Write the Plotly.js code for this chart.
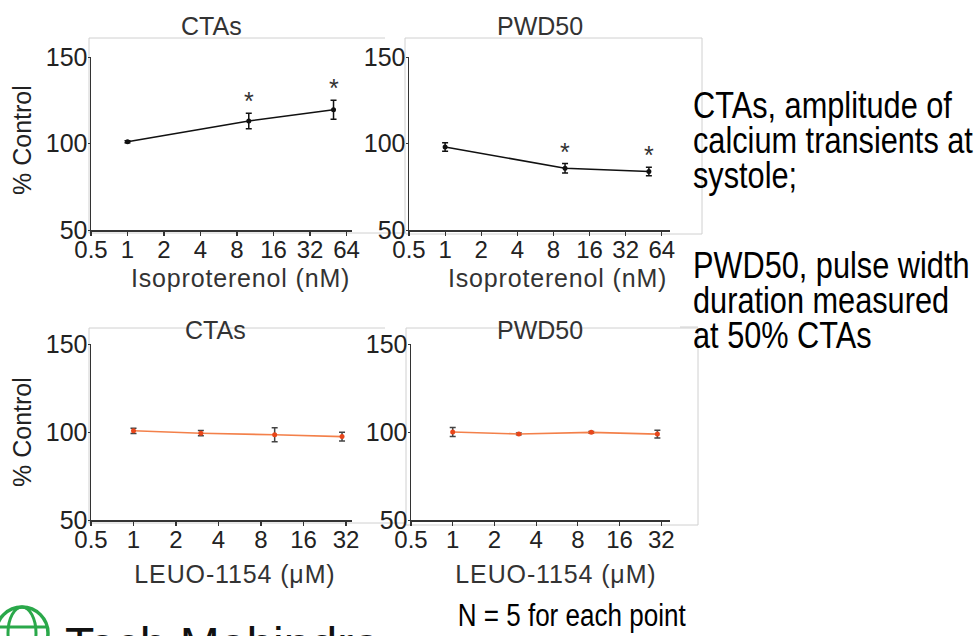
<!DOCTYPE html>
<html>
<head>
<meta charset="utf-8">
<script src="https://cdn.plot.ly/plotly-3.0.1.min.js"></script>
<style>html,body{margin:0;padding:0;background:#fff;}#chart{width:979px;height:636px;}</style>
</head>
<body>
<div id="chart"></div>
<script>
// ---- data ----
const isoConc = [1, 10, 50];
const ctaIso = [101, 113, 119.5];
const ctaIsoErr = [0.6, 4.5, 5.5];
const pwdIso = [98, 85.7, 83.8];
const pwdIsoErr = [2.5, 2.7, 2.5];
const isoSig = [false, true, true];

const leuoConc = [1, 3, 10, 30];
const ctaLeuo = [100.7, 99.3, 98.4, 97.4];
const ctaLeuoErr = [1.5, 1.5, 4, 2.5];
const pwdLeuo = [100, 98.9, 99.8, 98.8];
const pwdLeuoErr = [2.5, 0.5, 0.5, 2.2];

const isoTicks = [0.5, 1, 2, 4, 8, 16, 32, 64];
const isoTickText = ['0.5', '1', '2', '4', '8', '16', '32', '64'];
const leuoTicks = [0.5, 1, 2, 4, 8, 16, 32];
const leuoTickText = ['0.5', '1', '2', '4', '8', '16', '32'];
const yTicks = [50, 100, 150];

const panelTitles = ['CTAs', 'PWD50', 'CTAs', 'PWD50'];
const isoLabel = 'Isoproterenol (nM)';
const leuoLabel = 'LEUO-1154 (μM)';
const yLabel = '% Control';
const noteLines1 = ['CTAs, amplitude of', 'calcium transients at', 'systole;'];
const noteLines2 = ['PWD50, pulse width', 'duration measured', 'at 50% CTAs'];
const nNote = 'N = 5 for each point';

// ---- helpers ----
const W = 979, H = 636;
const px = v => v / W;
const py = v => 1 - v / H;
const FONT = 'Liberation Sans, Arial, sans-serif';

// horizontal width factors for texts (condensed / letter-spaced look)
const widthFactor = {};
widthFactor[isoLabel] = 1.07;
widthFactor[leuoLabel] = 1.06;
noteLines1.concat(noteLines2).forEach(t => widthFactor[t] = 0.83);
widthFactor[nNote] = 0.84;

function seriesTrace(x, y, e, xa, ya, lineColor, markerColor, errColor) {
  return {
    x: x, y: y, xaxis: xa, yaxis: ya, type: 'scatter', mode: 'lines+markers',
    line: {color: lineColor, width: 1.6},
    marker: {color: markerColor, size: 5},
    error_y: {type: 'data', array: e, visible: true, color: errColor, thickness: 1.5, width: 3},
    showlegend: false, hoverinfo: 'none'
  };
}

const data = [
  seriesTrace(isoConc, ctaIso, ctaIsoErr, 'x', 'y', '#111', '#111', '#111'),
  seriesTrace(isoConc, pwdIso, pwdIsoErr, 'x2', 'y2', '#111', '#111', '#111'),
  seriesTrace(leuoConc, ctaLeuo, ctaLeuoErr, 'x3', 'y3', '#f3804a', '#e8461a', '#444'),
  seriesTrace(leuoConc, pwdLeuo, pwdLeuoErr, 'x4', 'y4', '#f3804a', '#e8461a', '#444')
];

function xAxis(domain, anchor, maxv, tv, tt) {
  return {
    domain: domain, anchor: anchor, type: 'log',
    range: [Math.log10(0.5), Math.log10(maxv)],
    tickvals: tv, ticktext: tt,
    showline: true, linecolor: '#333', linewidth: 1.5,
    ticks: 'outside', ticklen: 4, tickcolor: '#333', tickwidth: 1.2,
    ticklabelstandoff: -6,
    showgrid: false, zeroline: false,
    tickfont: {family: FONT, size: 24, color: '#222'}
  };
}
function yAxis(domain, anchor) {
  return {
    domain: domain, anchor: anchor, range: [50, 150],
    tickvals: yTicks,
    showline: true, linecolor: '#333', linewidth: 1.5,
    ticks: 'outside', ticklen: 2, tickcolor: '#333',
    ticklabelstandoff: -5,
    showgrid: false, zeroline: false,
    tickfont: {family: FONT, size: 25, color: '#222'}
  };
}

const layout = {
  width: W, height: H,
  margin: {l: 0, r: 0, t: 0, b: 0},
  paper_bgcolor: '#fff', plot_bgcolor: 'rgba(0,0,0,0)',
  showlegend: false,
  xaxis: xAxis([px(91), px(352)], 'y', 71, isoTicks, isoTickText),
  yaxis: yAxis([py(230), py(57)], 'x'),
  xaxis2: xAxis([px(409), px(670)], 'y2', 75, isoTicks, isoTickText),
  yaxis2: yAxis([py(230), py(57)], 'x2'),
  xaxis3: xAxis([px(91), px(352)], 'y3', 35.3, leuoTicks, leuoTickText),
  yaxis3: yAxis([py(520), py(344)], 'x3'),
  xaxis4: xAxis([px(411), px(670)], 'y4', 37, leuoTicks, leuoTickText),
  yaxis4: yAxis([py(520), py(344)], 'x4'),
  shapes: [],
  annotations: []
};

// light frame lines of the pasted panels
const frameLines = [
  [89, 38, 385, 38], [89, 38, 89, 233], [89, 233, 406, 233],
  [405, 38, 702, 38], [405, 38, 405, 233], [702, 38, 702, 234], [406, 234, 702, 234],
  [89, 328, 385, 328], [89, 328, 89, 523], [89, 523, 406, 523],
  [406, 328, 698, 328], [406, 328, 406, 525], [698, 328, 698, 525], [406, 525, 698, 525],
  [680, 327, 698, 327]
];
frameLines.forEach(f => layout.shapes.push({type: 'line', xref: 'paper', yref: 'paper', layer: 'below',
  x0: px(f[0]), x1: px(f[2]), y0: py(f[1]), y1: py(f[3]), line: {color: '#d0d0d0', width: 1}}));

// logo (partially cut at the bottom edge)
layout.shapes.push({type: 'circle', xref: 'paper', yref: 'paper', x0: px(-4), x1: px(48), y0: py(659), y1: py(607),
  line: {color: '#2aa84a', width: 3.5}});
layout.shapes.push({type: 'circle', xref: 'paper', yref: 'paper', x0: px(8), x1: px(36), y0: py(659), y1: py(607),
  line: {color: '#2aa84a', width: 3}});
layout.shapes.push({type: 'line', xref: 'paper', yref: 'paper', x0: px(-4), x1: px(48), y0: py(627), y1: py(627),
  line: {color: '#2aa84a', width: 3}});
layout.annotations.push({xref: 'paper', yref: 'paper', x: px(63), y: py(616), xanchor: 'left', yanchor: 'top',
  text: 'Tech Mahindra', showarrow: false, font: {family: FONT, size: 48, color: '#111'}});

// panel titles
const titlePos = [[211, 26], [540, 26], [215, 330], [540, 330]];
panelTitles.forEach((t, i) => layout.annotations.push({xref: 'paper', yref: 'paper', x: px(titlePos[i][0]), y: py(titlePos[i][1]),
  xanchor: 'center', yanchor: 'middle', text: t, showarrow: false, font: {family: FONT, size: 25, color: '#333'}}));

// axis titles
const xTitlePos = [[240, 278, isoLabel], [557, 278, isoLabel], [234, 574, leuoLabel], [555, 574, leuoLabel]];
xTitlePos.forEach(p => layout.annotations.push({xref: 'paper', yref: 'paper', x: px(p[0]), y: py(p[1]),
  xanchor: 'center', yanchor: 'middle', text: p[2], showarrow: false, font: {family: FONT, size: 25, color: '#333'}}));
[[22, 140], [22, 432]].forEach(p => layout.annotations.push({xref: 'paper', yref: 'paper', x: px(p[0]), y: py(p[1]),
  xanchor: 'center', yanchor: 'middle', textangle: -90, text: yLabel, showarrow: false, font: {family: FONT, size: 25, color: '#222'}}));

// significance asterisks
isoConc.forEach((c, i) => {
  if (!isoSig[i]) return;
  layout.annotations.push({xref: 'x', yref: 'y', x: Math.log10(c), y: ctaIso[i] + ctaIsoErr[i], yanchor: 'bottom', yshift: -4,
    text: '*', showarrow: false, font: {family: FONT, size: 25, color: '#333'}});
  layout.annotations.push({xref: 'x2', yref: 'y2', x: Math.log10(c), y: pwdIso[i] + pwdIsoErr[i], yanchor: 'bottom', yshift: -4,
    text: '*', showarrow: false, font: {family: FONT, size: 25, color: '#333'}});
});

// side notes
const base1 = [118, 153, 188], base2 = [278, 313, 348];
function addLine(t, baseline) {
  layout.annotations.push({xref: 'paper', yref: 'paper', x: px(691), y: py(baseline - 12.8), xanchor: 'left', yanchor: 'middle',
    align: 'left', text: t, showarrow: false, font: {family: FONT, size: 37, color: '#000'}});
}
noteLines1.forEach((t, i) => addLine(t, base1[i]));
noteLines2.forEach((t, i) => addLine(t, base2[i]));
layout.annotations.push({xref: 'paper', yref: 'paper', x: px(572), y: py(626 - 10.7), xanchor: 'center', yanchor: 'middle',
  text: nNote, showarrow: false, font: {family: FONT, size: 31, color: '#000'}});

Plotly.newPlot('chart', data, layout, {displayModeBar: false, staticPlot: true}).then(gd => {
  gd.querySelectorAll('text.annotation-text').forEach(t => {
    const f = widthFactor[t.textContent];
    if (!f) return;
    const w = t.getComputedTextLength();
    t.setAttribute('textLength', (w * f).toFixed(1));
    t.setAttribute('lengthAdjust', f < 1 ? 'spacingAndGlyphs' : 'spacing');
  });
});
</script>
</body>
</html>
